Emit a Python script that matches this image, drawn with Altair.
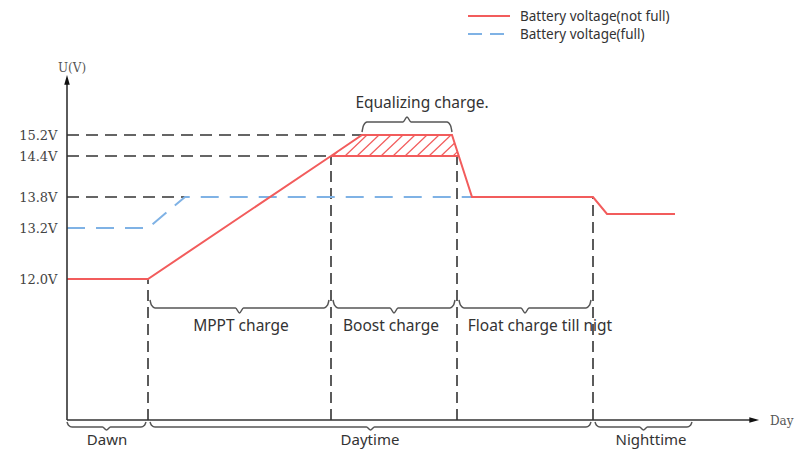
import altair as alt
import pandas as pd
import numpy as np

# ---------------- data (schematic units: time along x, voltage level position along y) ----
VOLT_LABELS = ["15.2V", "14.4V", "13.8V", "13.2V", "12.0V"]
VOLT_LEVELS = [285, 264, 223, 192, 141]

RED_T = [0, 81, 264, 295, 385, 405, 526, 540, 608]
RED_V = [141, 141, 264, 285, 285, 223, 223, 206, 206]
RED_BASE_T = [264, 392]
RED_BASE_V = [264, 264]
BLUE_T = [0, 81, 118, 405]
BLUE_V = [192, 192, 223, 223]

GUIDE_H_V = [285, 264, 223]
GUIDE_H_END = [295, 264, 118]
GUIDE_V_T = [81, 264, 390, 526]
GUIDE_V_TOP = [141, 264, 264, 223]

EQ_LABEL = "Equalizing charge."
EQ_START, EQ_END = 295, 385
EQ_LABEL_T = 355

PHASES = ["MPPT charge", "Boost charge", "Float charge till nigt"]
PHASE_START = [83, 266, 392]
PHASE_END = [262, 388, 524]
PHASE_LABEL_T = [174, 324, 473]

PERIODS = ["Dawn", "Daytime", "Nighttime"]
PERIOD_START = [0, 83, 528]
PERIOD_END = [79, 524, 625]
PERIOD_LABEL_T = [40, 303, 584]

LEGEND = ["Battery voltage(not full)", "Battery voltage(full)"]

RED = "#f25c5c"
BLUE = "#7fb2e5"
DARK = "#333333"
GREY = "#555555"

xs = alt.Scale(domain=[0, 720], nice=False, zero=False)
ys = alt.Scale(domain=[0, 360], nice=False, zero=False)

label_expr = " : ".join(
    f"datum.value == {v} ? '{l}'" for v, l in zip(VOLT_LEVELS, VOLT_LABELS)
) + " : ''"
yaxis = alt.Axis(values=VOLT_LEVELS, labelExpr=label_expr, domain=False, ticks=False,
                 grid=False, title=None, labelFont="DejaVu Serif", labelFontSize=13,
                 labelColor="#444444", labelPadding=10)


def X(f):
    return alt.X(f, type="quantitative", scale=xs, axis=None)


def Y(f):
    return alt.Y(f, type="quantitative", scale=ys, axis=yaxis)


# ---------------- tables ----------------
red_df = pd.DataFrame({"t": RED_T, "v": RED_V, "i": range(len(RED_T))})
red_base_df = pd.DataFrame({"t": RED_BASE_T, "v": RED_BASE_V, "i": [0, 1]})
blue_df = pd.DataFrame({"t": BLUE_T, "v": BLUE_V, "i": range(len(BLUE_T))})

gh_df = pd.DataFrame({"t": [0] * len(GUIDE_H_V), "t2": GUIDE_H_END, "v": GUIDE_H_V, "v2": GUIDE_H_V})
gv_df = pd.DataFrame({"t": GUIDE_V_T, "t2": GUIDE_V_T, "v": [0] * len(GUIDE_V_T), "v2": GUIDE_V_TOP})

# hatching inside the equalizing region (between 14.4V and 15.2V)
lo, hi = VOLT_LEVELS[1], VOLT_LEVELS[0]
H = hi - lo
xl0, xl1 = RED_T[2], RED_T[3]        # left edge (ramp)
xr0, xr1 = RED_BASE_T[1], RED_T[4]   # right edge (drop)
k = 22 / H
rows = []
for b in np.arange(xl0 + 2, xr0, 12):
    smax = min(H, (b - xl0) / ((xl1 - xl0) / H - k), (xr0 - b) / (k + (xr0 - xr1) / H))
    if smax > 0.5:
        rows.append({"t": b, "v": lo, "t2": b + k * smax, "v2": lo + smax})
hatch_df = pd.DataFrame(rows)


def brace(t0, t1, end, h, tip, tmid=None):
    tmid = (t0 + t1) / 2 if tmid is None else tmid
    ts = [t0, t0 + 1.5, t0 + 5, tmid - 4, tmid, tmid + 4, t1 - 5, t1 - 1.5, t1]
    e2 = h + (end - h) * 0.35
    vs = [end, e2, h, h, tip, h, h, e2, end]
    return ts, vs


brows = []
g = 0
ts, vs = brace(EQ_START, EQ_END, 288, 298, 303)
brows += [{"g": g, "i": i, "t": a, "v": b} for i, (a, b) in enumerate(zip(ts, vs))]
for s, e in zip(PHASE_START, PHASE_END):
    g += 1
    ts, vs = brace(s, e, 120, 112, 107)
    brows += [{"g": g, "i": i, "t": a, "v": b} for i, (a, b) in enumerate(zip(ts, vs))]
for s, e in zip(PERIOD_START, PERIOD_END):
    g += 1
    ts, vs = brace(s, e, -2, -7, -10)
    brows += [{"g": g, "i": i, "t": a, "v": b} for i, (a, b) in enumerate(zip(ts, vs))]
brace_df = pd.DataFrame(brows)

labels_df = pd.DataFrame({
    "t": [EQ_LABEL_T] + PHASE_LABEL_T,
    "v": [317] + [94] * 3,
    "text": [EQ_LABEL] + PHASES,
})
period_df = pd.DataFrame({"t": PERIOD_LABEL_T, "v": [-19.5] * 3, "text": PERIODS})

axes_df = pd.DataFrame({"t": [0, 0], "t2": [0, 684], "v": [0, 0], "v2": [336, 0]})
arrow_up = pd.DataFrame({"t": [0], "v": [339]})
arrow_right = pd.DataFrame({"t": [686], "v": [0]})
axis_text = pd.DataFrame({"t": [5, 703], "v": [352, -1], "text": ["U(V)", "Day"]})

leg_lines = pd.DataFrame({"t": [401, 401], "t2": [443, 443], "v": [404, 386], "v2": [404, 386],
                          "s": LEGEND})
leg_text = pd.DataFrame({"t": [453, 453], "v": [403.5, 385.5], "text": LEGEND})

# ---------------- layers ----------------
hatch = alt.Chart(hatch_df).mark_rule(color=RED, strokeWidth=1.2).encode(
    x=X("t"), y=Y("v"), x2="t2", y2="v2")
guide_h = alt.Chart(gh_df).mark_rule(color=DARK, strokeWidth=1.6, strokeDash=[12, 7]).encode(
    x=X("t"), y=Y("v"), x2="t2", y2="v2")
guide_v = alt.Chart(gv_df).mark_rule(color=DARK, strokeWidth=1.6, strokeDash=[11, 6]).encode(
    x=X("t"), y=Y("v"), x2="t2", y2="v2")
blue = alt.Chart(blue_df).mark_line(color=BLUE, strokeWidth=2, strokeDash=[18, 11]).encode(
    x=X("t"), y=Y("v"), order="i:Q")
red = alt.Chart(red_df).mark_line(color=RED, strokeWidth=2).encode(
    x=X("t"), y=Y("v"), order="i:Q")
red_base = alt.Chart(red_base_df).mark_line(color=RED, strokeWidth=2).encode(
    x=X("t"), y=Y("v"), order="i:Q")
axes = alt.Chart(axes_df).mark_rule(color=DARK, strokeWidth=1.6).encode(
    x=X("t"), y=Y("v"), x2="t2", y2="v2")
ARROW = "M0,-1L0.45,0.6L-0.45,0.6Z"
arr_u = alt.Chart(arrow_up).mark_point(shape=ARROW, filled=True, color="#111", size=150,
                                        opacity=1).encode(x=X("t"), y=Y("v"))
arr_r = alt.Chart(arrow_right).mark_point(shape=ARROW, angle=90, filled=True, color="#111",
                                           size=150, opacity=1).encode(x=X("t"), y=Y("v"))
braces = alt.Chart(brace_df).mark_line(color=GREY, strokeWidth=1.5, interpolate="monotone").encode(
    x=X("t"), y=Y("v"), detail="g:N", order="i:Q")
labels = alt.Chart(labels_df).mark_text(font="Noto Sans", fontSize=15.5, color=DARK).encode(
    x=X("t"), y=Y("v"), text="text:N")
periods = alt.Chart(period_df).mark_text(font="Noto Sans", fontSize=15, color=DARK).encode(
    x=X("t"), y=Y("v"), text="text:N")
ax_text_c = alt.Chart(axis_text.iloc[[0]]).mark_text(font="DejaVu Serif", fontSize=12,
                                                     color="#555555", align="center").encode(
    x=X("t"), y=Y("v"), text="text:N")
ax_text_l = alt.Chart(axis_text.iloc[[1]]).mark_text(font="DejaVu Serif", fontSize=12,
                                                     color="#555555", align="left").encode(
    x=X("t"), y=Y("v"), text="text:N")
leg_l = alt.Chart(leg_lines).mark_rule(strokeWidth=2).encode(
    x=X("t"), y=Y("v"), x2="t2", y2="v2",
    color=alt.Color("s:N", scale=alt.Scale(domain=LEGEND, range=[RED, BLUE]), legend=None),
    strokeDash=alt.StrokeDash("s:N", scale=alt.Scale(domain=LEGEND, range=[[1, 0], [14, 8]]),
                              legend=None))
leg_t = alt.Chart(leg_text).mark_text(font="Noto Sans", fontSize=13.5, color=DARK, align="left").encode(
    x=X("t"), y=Y("v"), text="text:N")

chart = alt.layer(
    hatch, guide_h, guide_v, blue, red, red_base, axes, arr_u, arr_r, braces, labels, periods,
    ax_text_c, ax_text_l, leg_l, leg_t
).properties(
    width=720, height=360,
    autosize=alt.AutoSizeParams(type="none"),
    padding={"left": 59, "top": 52, "right": 8, "bottom": 29},
    background="white",
).configure_view(stroke=None)

chart.save("out.html", embed_options={"renderer": "svg", "actions": False})
